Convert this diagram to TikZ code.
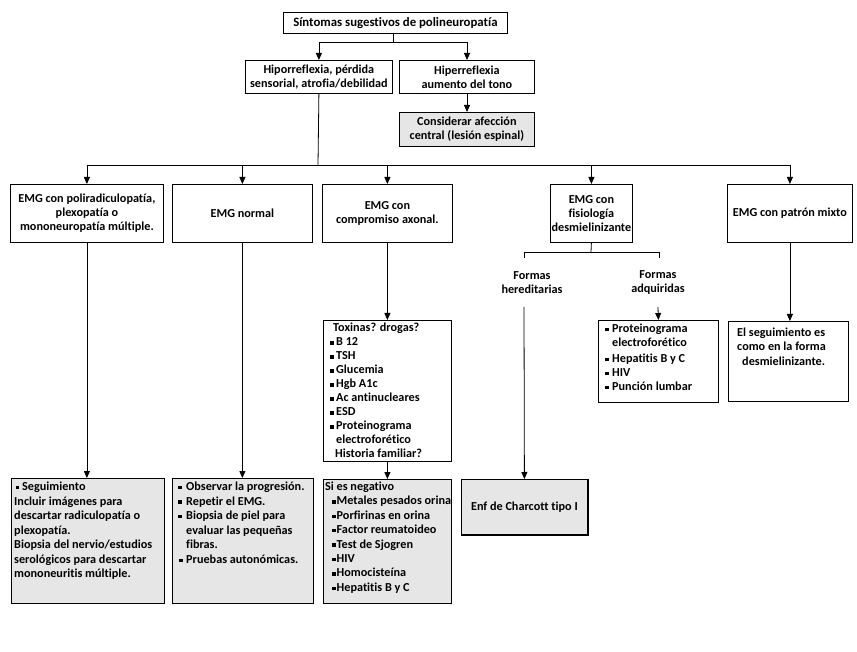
\documentclass[tikz,border=0pt]{standalone}
\usepackage{fontspec}
\setmainfont{Carlito}[Ligatures=NoCommon]
\usetikzlibrary{arrows.meta}
\definecolor{boxgray}{RGB}{230,230,230}
\newcommand\bul[1]{\makebox[#1][l]{\rule[1.4pt]{3.3pt}{3.3pt}}}
\newcommand\lines[3]{\parbox[t]{200pt}{\fontsize{12.2}{#1}\selectfont\raggedright #3}}
\tikzset{
  box/.style={draw, line width=0.8pt, inner sep=0pt, anchor=north west,
    font=\bfseries\fontsize{12.2}{14}\selectfont, align=center},
  fillbox/.style={box, fill=boxgray},
  arr/.style={-{Triangle[width=6pt,length=7pt]}, line width=0.8pt},
  ln/.style={line width=0.8pt},
  txt/.style={inner sep=0pt, anchor=base west, font=\bfseries},
  lab/.style={inner sep=0pt, font=\bfseries\fontsize{12.2}{14}\selectfont, align=center}
}
\begin{document}
\begin{tikzpicture}[x=1pt,y=-1pt]
\fill[white] (0,0) rectangle (857,652);
\useasboundingbox (0,0) rectangle (857,652);
% boxes
\node[box, minimum width=224, minimum height=21, font=\bfseries\fontsize{12.8}{14}\selectfont] (top) at (283,12.5) {Síntomas sugestivos de polineuropatía};
\node[box, minimum width=147, minimum height=33] (hipo) at (245,60) {Hiporreflexia, pérdida\\sensorial, atrofia/debilidad};
\node[box, minimum width=135, minimum height=33] (hiper) at (399,60) {Hiperreflexia\\aumento del tono};
\node[fillbox, minimum width=135, minimum height=34] (consid) at (399,112) {Considerar afección\\central (lesión espinal)};
\node[box, minimum width=153, minimum height=58] (e1) at (10,184) {EMG con poliradiculopatía,\\plexopatía o\\mononeuropatía múltiple.};
\node[box, minimum width=140, minimum height=58] (e2) at (172,184) {EMG normal};
\node[box, minimum width=130, minimum height=58] (e3) at (322,184) {EMG con\\compromiso axonal.};
\node[box, minimum width=82, minimum height=58] (e4) at (550,184) {EMG con\\fisiología\\desmielinizante};
\node[box, minimum width=125, minimum height=58] (e5) at (727,184) {EMG con patrón mixto};
\node[box, minimum width=128, minimum height=141] (tox) at (323,320) {};
\node[fillbox, minimum width=128, minimum height=124] (neg) at (323,479) {};
\node[fillbox, minimum width=153, minimum height=125] (b1) at (11,478) {};
\node[fillbox, minimum width=141, minimum height=125] (b2) at (172,478) {};
\node[fillbox, minimum width=126, minimum height=55] (ch) at (461,479) {Enf de Charcott tipo I};
\draw[line width=1.6pt] (ch.south west) -- (ch.south east) -- (ch.north east);
\node[box, minimum width=120, minimum height=82] (adq) at (598,320) {};
\node[box, minimum width=120, minimum height=80] (seg) at (728,321) {};
% labels
\node[lab] (her) at (532,283) {Formas\\hereditarias};
\node[lab] (adql) at (658,283) {Formas\\adquiridas};
% texts
\node[txt] (toxt) at (330,332) {\lines{14}{}{%
\hspace*{3pt}Toxinas? drogas?\\
\bul{6pt}B 12\\
\bul{6pt}TSH\\
\bul{6pt}Glucemia\\
\bul{6pt}Hgb A1c\\
\bul{6pt}Ac antinucleares\\
\bul{6pt}ESD\\
\bul{6pt}Proteinograma\\
\hspace*{6pt}electroforético\\
\hspace*{5pt}Historia familiar?}};
\node[txt] (negt) at (325,490.5) {\lines{14.4}{}{%
Si es negativo\\
\hspace*{7pt}\bul{4.5pt}Metales pesados orina\\
\hspace*{7pt}\bul{4.5pt}Porfirinas en orina\\
\hspace*{7pt}\bul{4.5pt}Factor reumatoideo\\
\hspace*{7pt}\bul{4.5pt}Test de Sjogren\\
\hspace*{7pt}\bul{4.5pt}HIV\\
\hspace*{7pt}\bul{4.5pt}Homocisteína\\
\hspace*{7pt}\bul{4.5pt}Hepatitis B y C}};
\node[txt] (b1t) at (14,490.5) {\lines{14.5}{}{%
\hspace*{2pt}\bul{6pt}Seguimiento\\
Incluir imágenes para\\
descartar radiculopatía o\\
plexopatía.\\
Biopsia del nervio/estudios\\
serológicos para descartar\\
mononeuritis múltiple.}};
\node[txt] (b2t) at (178,490.5) {\lines{14.6}{}{%
\bul{8pt}Observar la progresión.\\
\bul{8pt}Repetir el EMG.\\
\bul{8pt}Biopsia de piel para\\
\hspace*{8pt}evaluar las pequeñas\\
\hspace*{8pt}fibras.\\
\hspace*{1pt}\bul{7pt}Pruebas autonómicas.}};
\node[txt] (adqt) at (605,332.5) {\lines{14.2}{}{%
\bul{7pt}Proteinograma\\
\hspace*{7pt}electroforético\\[1.5pt]
\bul{7pt}Hepatitis B y C\\
\bul{7pt}HIV\\
\bul{7pt}Punción lumbar}};
\node[txt] (segt) at (737,336.5) {\lines{14.5}{}{%
El seguimiento es\\
como en la forma\\
\hspace*{5pt}desmielinizante.}};
% connectors
\coordinate (tj) at (393,42);
\coordinate (hr) at (467,42);
\draw[ln] (top.south -| tj) -- (tj);
\draw[ln] (tj -| hipo.north) -- (hr);
\draw[arr] (tj -| hipo.north) -- (hipo.north);
\draw[arr] (hr) -- (hr |- hiper.north);
\draw[arr] (hr |- hiper.south) -- (hr |- consid.north);
\coordinate (bar) at (318,165);
\draw[ln] (hipo.south) -- (bar);
\draw[ln] (bar -| e1.north) -- (bar -| e5.north);
\foreach \e in {e1,e2,e3,e4,e5} \draw[arr] (bar -| \e.north) -- (\e.north);
\draw[arr] (e1.south) -- (e1.south |- b1.north);
\draw[arr] (e2.south) -- (e2.south |- b2.north);
\draw[arr] (e3.south) -- (tox.north);
\draw[arr] (tox.south) -- (neg.north);
\draw[arr] (e5.south) -- (e5.south |- seg.north);
\coordinate (fj) at (591,252);
\coordinate (fl) at (524,252);
\coordinate (fr) at (659,252);
\draw[ln] (e4.south) -- (fj);
\draw[ln] (fl) ++(0,6) -- (fl) -- (fr) -- ++(0,6);
\coordinate (hs) at (524,307);
\coordinate (as) at (658,307);
\draw[arr] (hs) -- (ch.north);
\draw[arr] (as) -- (adq.north);
\end{tikzpicture}
\end{document}
